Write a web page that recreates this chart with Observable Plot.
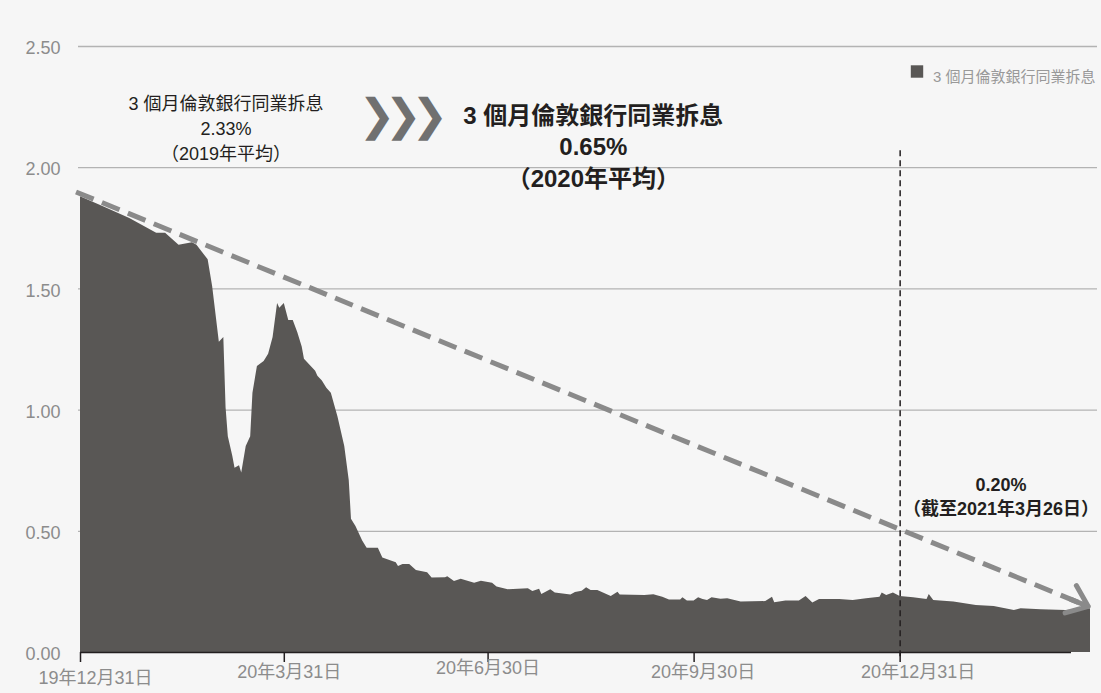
<!DOCTYPE html>
<html>
<head>
<meta charset="utf-8">
<script src="https://cdn.jsdelivr.net/npm/d3@7"></script>
<script src="https://cdn.jsdelivr.net/npm/@observablehq/plot@0.6"></script>
<style>
html, body { margin: 0; padding: 0; background: #f6f6f6; }
#chart svg { display: block; }
.chevrons text { letter-spacing: -10.5px; }
</style>
</head>
<body>
<div id="chart"></div>
<script>
// ---- data ----
const seriesName = "3 個月倫敦銀行同業拆息";
const dates = [
  "2019-12-31","2020-01-10","2020-01-22","2020-02-03","2020-02-07","2020-02-13","2020-02-19","2020-02-21",
  "2020-02-26","2020-02-28","2020-03-02","2020-03-04","2020-03-05","2020-03-06","2020-03-08","2020-03-09",
  "2020-03-11","2020-03-12","2020-03-14","2020-03-16","2020-03-17","2020-03-19","2020-03-22","2020-03-24",
  "2020-03-26","2020-03-28","2020-03-29","2020-03-31","2020-04-02","2020-04-04","2020-04-06","2020-04-08",
  "2020-04-09","2020-04-14","2020-04-15","2020-04-17","2020-04-19","2020-04-21","2020-04-24","2020-04-25",
  "2020-04-27","2020-04-29","2020-04-30","2020-05-02","2020-05-05","2020-05-07","2020-05-12","2020-05-14",
  "2020-05-20","2020-05-21","2020-05-23","2020-05-26","2020-05-29","2020-06-03","2020-06-05","2020-06-11",
  "2020-06-12","2020-06-15","2020-06-18","2020-06-24","2020-06-27","2020-07-02","2020-07-04","2020-07-09",
  "2020-07-18","2020-07-20","2020-07-23","2020-07-24","2020-07-28","2020-07-30","2020-08-06","2020-08-08",
  "2020-08-11","2020-08-13","2020-08-15","2020-08-18","2020-08-24","2020-08-27","2020-08-28","2020-09-08",
  "2020-09-12","2020-09-16","2020-09-19","2020-09-24","2020-09-25","2020-09-27","2020-09-30","2020-10-02",
  "2020-10-04","2020-10-06","2020-10-08","2020-10-12","2020-10-15","2020-10-21","2020-11-01","2020-11-04",
  "2020-11-05","2020-11-10","2020-11-16","2020-11-19","2020-11-22","2020-11-25","2020-12-04","2020-12-10",
  "2020-12-16","2020-12-22","2020-12-23","2020-12-25","2020-12-28","2020-12-31","2021-01-06","2021-01-12",
  "2021-01-13","2021-01-15","2021-01-24","2021-02-03","2021-02-11","2021-02-20","2021-02-23","2021-03-04",
  "2021-03-15","2021-03-26"
];
const libor = [
  1.88,1.84,1.79,1.73,1.73,1.68,1.69,1.68,
  1.62,1.51,1.28,1.30,1.01,0.89,0.81,0.76,
  0.77,0.74,0.85,0.89,1.07,1.18,1.20,1.23,
  1.30,1.44,1.42,1.44,1.37,1.37,1.32,1.26,
  1.21,1.16,1.14,1.12,1.09,1.07,0.97,0.93,
  0.85,0.71,0.55,0.52,0.46,0.43,0.43,0.39,
  0.37,0.355,0.363,0.363,0.338,0.329,0.307,0.308,
  0.312,0.293,0.302,0.286,0.294,0.286,0.27,0.259,
  0.263,0.252,0.261,0.239,0.259,0.245,0.237,0.248,
  0.253,0.267,0.256,0.256,0.231,0.249,0.237,0.235,
  0.238,0.228,0.217,0.217,0.226,0.212,0.212,0.226,
  0.219,0.215,0.226,0.22,0.222,0.208,0.21,0.228,
  0.205,0.212,0.212,0.231,0.204,0.219,0.219,0.215,
  0.222,0.228,0.245,0.235,0.245,0.231,0.226,0.219,
  0.239,0.215,0.208,0.194,0.19,0.173,0.18,0.176,
  0.173,0.18
];
const yTicks = [0, 0.5, 1.0, 1.5, 2.0, 2.5];
const xTickDates = ["2019-12-31","2020-03-31","2020-06-30","2020-09-30","2020-12-31"];
const xTickLabels = ["19年12月31日","20年3月31日","20年6月30日","20年9月30日","20年12月31日"];
const trendDates = ["2019-12-29","2021-03-25"];
const trendValues = [1.90, 0.19];
const markerDate = "2020-12-31";
const avg2019 = "2.33%";
const avg2020 = "0.65%";
const latest = "0.20%";
const note2019 = `${seriesName}\n${avg2019}\n（2019年平均）`;
const note2020 = `${seriesName}\n${avg2020}\n（2020年平均）`;
const noteLatest = `${latest}\n（截至2021年3月26日）`;

// ---- build ----
const parse = d3.utcParse("%Y-%m-%d");
const data = dates.map((d, i) => ({date: parse(d), value: libor[i]}));
const ticksData = xTickDates.map((d, i) => ({date: parse(d), label: xTickLabels[i]}));
const trend = [{x1: parse(trendDates[0]), y1: trendValues[0], x2: parse(trendDates[1]), y2: trendValues[1]}];

const font = '"Liberation Sans", "Noto Sans CJK TC", sans-serif';
const dark = "#231f20";
const grey = "#8c8c8c";
const areaFill = "#595755";
const trendColor = "#8a8a8a";
const labelOffsets = [[15, 31], [5, 25], [0, 21], [9, 25], [18, 25]];

const chart = Plot.plot({
  width: 1101,
  height: 693,
  marginLeft: 80,
  marginRight: 11,
  marginTop: 46,
  marginBottom: 41,
  style: {background: "#f6f6f6", fontFamily: font},
  x: {type: "utc", domain: [parse("2019-12-31"), parse("2021-03-26")], axis: null},
  y: {domain: [0, 2.5]},
  marks: [
    Plot.ruleY(yTicks.filter(v => v > 0), {stroke: "#b3b3b3", strokeWidth: 1.3, insetLeft: -2, insetRight: -7}),
    Plot.axisY(yTicks, {tickSize: 0, tickPadding: 20, tickFormat: d3.format(".2f"), fontSize: 18, fill: grey, dy: 2, label: null}),
    Plot.areaY(data, {x: "date", y: "value", fill: areaFill}),
    Plot.ruleY([0], {stroke: dark, strokeWidth: 1.5, insetRight: 19}),
    Plot.ruleX(ticksData, {x: "date", y1: 0, y2: 0, insetBottom: -10, stroke: dark, strokeWidth: 1.5}),
    ...labelOffsets.map(([dx, dy], k) =>
      Plot.text(ticksData, {filter: (d, i) => i === k, x: "date", frameAnchor: "bottom", text: "label",
        dx, dy, fontSize: 18, fill: grey})),
    Plot.ruleX([markerDate], {x: d => parse(d), y1: 2.07, y2: 0, insetBottom: -8, stroke: dark, strokeWidth: 1.5, strokeDasharray: "6,4"}),
    Plot.link(trend, {x1: "x1", y1: "y1", x2: "x2", y2: "y2", stroke: trendColor, strokeWidth: 5, strokeDasharray: "19,9"}),
    Plot.arrow(trend, {x1: "x1", y1: "y1", x2: "x2", y2: "y2", stroke: trendColor, strokeWidth: 5,
      headLength: 7.2, headAngle: 76, insetStart: 1075}),
    Plot.text([note2019], {x: parse("2020-03-05"), y: 2.166, text: d => d, fontSize: 18, lineHeight: 1.39, fill: dark}),
    Plot.text(["❯❯❯"], {x: parse("2020-05-23"), y: 2.215, text: d => d, dx: -5, fontSize: 44, fill: "#707070",
      fontFamily: "DejaVu Sans", className: "chevrons"}),
    Plot.text([note2020], {x: parse("2020-08-16"), y: 2.092, text: d => d, fontSize: 24, fontWeight: "bold", lineHeight: 1.31, fill: dark}),
    Plot.text([noteLatest], {x: parse("2021-02-14"), y: 0.648, text: d => d, fontSize: 18, fontWeight: "bold", lineHeight: 1.33, fill: dark}),
    Plot.dot([seriesName], {frameAnchor: "top-right", dx: -173.5, dy: 25, symbol: "square", r: 7, fill: areaFill}),
    Plot.text([seriesName], {frameAnchor: "top-right", dx: 5, dy: 25, textAnchor: "end", text: d => d, fontSize: 15, fill: "#999999"})
  ]
});
document.getElementById("chart").appendChild(chart);
</script>
</body>
</html>
